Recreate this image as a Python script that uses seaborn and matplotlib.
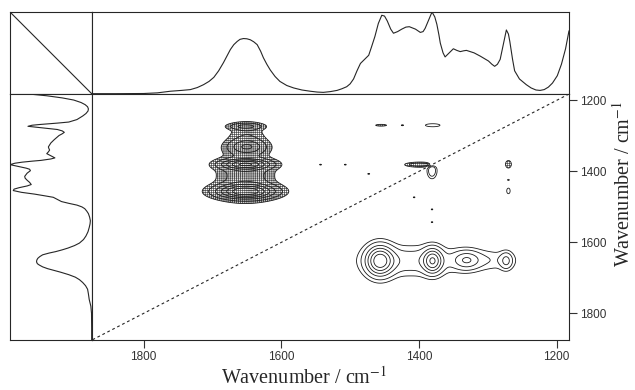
import numpy as np
import matplotlib
matplotlib.use("Agg")
import matplotlib.pyplot as plt
import seaborn as sns

sns.set_style("white")
plt.rcParams['font.family'] = ['Liberation Sans', 'DejaVu Sans']
plt.rcParams['mathtext.fontset'] = 'stix'
plt.rcParams['hatch.color'] = '0.3'
plt.rcParams['hatch.linewidth'] = 0.5

# averaged 1D spectrum (same trace is mirrored on the left)
spec_wn = [1875, 1840, 1800, 1780, 1761, 1745, 1732, 1722, 1713, 1705,
           1698, 1691, 1684, 1679, 1674, 1669, 1664, 1660, 1655, 1650,
           1645, 1640, 1635, 1630, 1626, 1621, 1616, 1609, 1602, 1592,
           1582, 1570, 1558, 1548, 1539, 1529, 1519, 1512, 1505, 1500,
           1495, 1490, 1485, 1479, 1473, 1469, 1464, 1459, 1454, 1450,
           1446, 1441, 1437, 1431, 1425, 1419, 1414, 1405, 1398, 1394,
           1391, 1386, 1381, 1377, 1374, 1371, 1369, 1365, 1362, 1356,
           1350, 1345, 1340, 1335, 1331, 1320, 1311, 1305, 1299, 1294,
           1290, 1286, 1282, 1277, 1273, 1270, 1268, 1264, 1261, 1254,
           1244, 1237, 1230, 1224, 1218, 1212, 1206, 1199, 1193, 1187,
           1182]
spec_int = [0.0, 0.0, 0.002, 0.01, 0.03, 0.04, 0.05, 0.075, 0.11, 0.15,
            0.20, 0.28, 0.38, 0.46, 0.54, 0.60, 0.64, 0.665, 0.675, 0.672,
            0.66, 0.635, 0.60, 0.52, 0.44, 0.36, 0.29, 0.21, 0.15, 0.10,
            0.07, 0.045, 0.03, 0.02, 0.016, 0.025, 0.04, 0.06, 0.085, 0.12,
            0.18, 0.28, 0.37, 0.42, 0.47, 0.57, 0.70, 0.86, 0.96, 0.95,
            0.89, 0.79, 0.74, 0.76, 0.79, 0.815, 0.82, 0.79, 0.75, 0.76,
            0.80, 0.90, 1.0, 0.94, 0.85, 0.72, 0.62, 0.50, 0.45, 0.50,
            0.55, 0.53, 0.515, 0.525, 0.53, 0.50, 0.46, 0.43, 0.40, 0.36,
            0.335, 0.36, 0.42, 0.62, 0.78, 0.73, 0.64, 0.42, 0.28, 0.18,
            0.11, 0.07, 0.045, 0.04, 0.05, 0.08, 0.13, 0.22, 0.36, 0.55,
            0.77]

# asynchronous cross peaks: positive lobe at (peak_x, peak_y),
# the antisymmetric negative lobe sits at (peak_y, peak_x)
peak_x = [1457, 1380, 1331, 1273, 1410, 1300, 1380, 1270, 1270, 1381, 1381, 1381, 1407]
peak_y = [1652, 1652, 1650, 1652, 1652, 1650, 1270, 1455, 1424, 1398, 1543, 1507, 1473]
peak_amp = [0.85, 0.65, 0.35, 0.28, 0.25, 0.14, 0.14, 0.13, 0.10, 0.30, 0.09, 0.09, 0.09]
peak_wx = [13, 9, 13, 6, 45, 30, 10, 2.5, 2.0, 4.5, 2.5, 2.5, 2.5]
peak_wy = [28, 23, 18, 16, 28, 20, 4, 8, 2.5, 14, 3, 3, 3]

pos_levels = [0.08, 0.16, 0.30, 0.45, 0.62, 0.80]
wn_ticks = [1800, 1600, 1400, 1200]
wn_lo, wn_hi = 1182, 1875

# build the map from the cross-peak table
grid = np.linspace(wn_hi, wn_lo, 700)
X, Y = np.meshgrid(grid, grid)
Z = np.zeros_like(X)
for a, b, amp, wa, wb in zip(peak_x, peak_y, peak_amp, peak_wx, peak_wy):
    Z += amp * np.exp(-0.5 * ((X - a) / wa) ** 2 - 0.5 * ((Y - b) / wb) ** 2)
    Z -= amp * np.exp(-0.5 * ((X - b) / wb) ** 2 - 0.5 * ((Y - a) / wa) ** 2)

fig = plt.figure(figsize=(6.35, 3.9), dpi=100)
W, H = 635.0, 390.0
def box(x0, y0, x1, y1):
    return [x0 / W, 1 - y1 / H, (x1 - x0) / W, (y1 - y0) / H]

ax_corner = fig.add_axes(box(10, 12, 92, 94))
ax_top = fig.add_axes(box(92, 12, 569, 94))
ax_left = fig.add_axes(box(10, 94, 92, 340))
ax = fig.add_axes(box(92, 94, 569, 340))

line_kw = dict(color='0.15', linewidth=0.8)

# corner box with its diagonal
ax_corner.plot([0, 1], [1, 0], **line_kw)
ax_corner.set_xlim(0, 1)
ax_corner.set_ylim(0, 1)

# top spectrum
sns.lineplot(x=spec_wn, y=spec_int, ax=ax_top, sort=False, estimator=None, **line_kw)
ax_top.set_xlim(wn_hi, wn_lo)
ax_top.set_ylim(-0.004, 1.0)

# left spectrum, rotated, baseline on the right
sns.lineplot(x=spec_int, y=spec_wn, ax=ax_left, sort=False, estimator=None,
             orient='y', **line_kw)
ax_left.set_xlim(1.0, -0.004)
ax_left.set_ylim(wn_hi, wn_lo)

for a in (ax_corner, ax_top, ax_left):
    a.set_xticks([])
    a.set_yticks([])
    a.set_xlabel('')
    a.set_ylabel('')

# contour map, negative lobes cross-hatched
all_levels = [-l for l in pos_levels[::-1]] + pos_levels
neg = ax.contourf(X, Y, Z, levels=[Z.min() - 1, -pos_levels[0]], colors='none',
                  hatches=['++++++++'])
neg.set_edgecolor('0.3')
neg.set_linewidth(0)
ax.contour(X, Y, Z, levels=all_levels, colors='0.1', linewidths=0.6,
           linestyles='solid')
ax.axline((1400, 1400), (1600, 1600), color='0.15', linewidth=0.8,
          linestyle=(0, (2.5, 2.5)))
ax.set_xlim(wn_hi, wn_lo)
ax.set_ylim(wn_hi, wn_lo)
ax.set_xticks(wn_ticks)
ax.set_yticks(wn_ticks)
ax.yaxis.tick_right()
ax.tick_params(axis='x', bottom=True, top=False, direction='out', length=6,
               width=0.8, labelsize=8.5, colors='0.2', pad=2)
ax.tick_params(axis='y', right=True, left=False, direction='out', length=6,
               width=0.8, labelsize=8.5, colors='0.2', pad=2)

# axis titles sit centred on the whole framed block, not just the map
lab = 'Wavenumber / cm$^{-1}$'
fig.text(304 / W, 1 - 378 / H, lab, fontsize=14.5, family='Liberation Serif',
         ha='center', va='center')
fig.text(624 / W, 1 - 184 / H, lab, fontsize=14.5, family='Liberation Serif',
         ha='center', va='center', rotation=90)

for a in (ax_corner, ax_top, ax_left, ax):
    for s in a.spines.values():
        s.set_color('0.15')
        s.set_linewidth(0.8)
        s.set_visible(True)

fig.savefig('out.png', dpi=100)
